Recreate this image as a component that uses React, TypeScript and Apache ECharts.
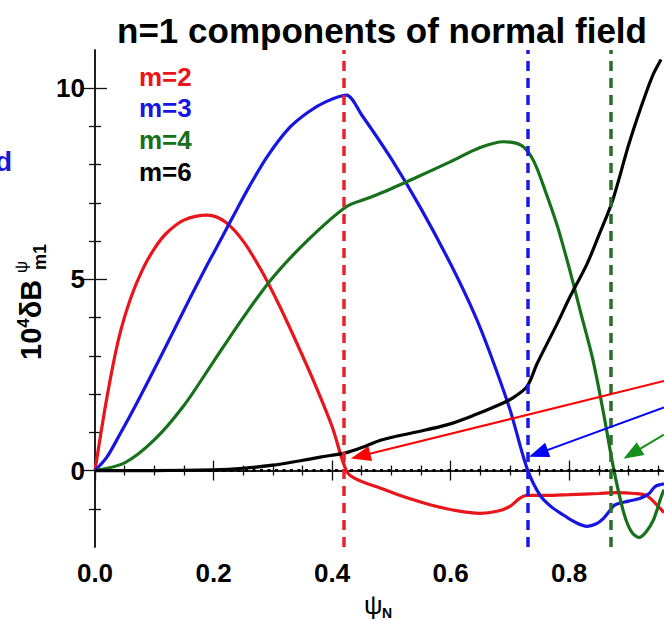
import React, { useEffect, useRef } from "react";
import * as echarts from "echarts";

// ---- data ----
const m2X = [0, 0.02, 0.04, 0.06, 0.08, 0.1, 0.12, 0.15, 0.19, 0.22, 0.25, 0.28, 0.31, 0.34, 0.37, 0.4, 0.424, 0.44, 0.483, 0.52, 0.567, 0.61, 0.65, 0.68, 0.7, 0.717, 0.729, 0.76, 0.8, 0.85, 0.88, 0.91, 0.93, 0.945, 0.96];
const m2Y = [0, 1.9, 3.45, 4.5, 5.25, 5.8, 6.2, 6.55, 6.68, 6.5, 6.0, 5.25, 4.35, 3.35, 2.3, 1.15, 0.0, -0.22, -0.47, -0.68, -0.9, -1.05, -1.12, -1.06, -0.94, -0.72, -0.65, -0.65, -0.63, -0.6, -0.58, -0.6, -0.65, -0.85, -1.1];

const m3X = [0, 0.02, 0.042, 0.07, 0.1, 0.13, 0.16, 0.19, 0.215, 0.24, 0.26, 0.29, 0.327, 0.36, 0.39, 0.424, 0.45, 0.5, 0.55, 0.6, 0.64, 0.667, 0.7, 0.729, 0.751, 0.77, 0.791, 0.81, 0.83, 0.845, 0.858, 0.869, 0.877, 0.9, 0.919, 0.935, 0.945, 0.96];
const m3Y = [0, 0.35, 0.95, 1.75, 2.65, 3.57, 4.5, 5.4, 6.12, 6.85, 7.42, 8.2, 8.95, 9.38, 9.65, 9.82, 9.3, 8.15, 6.85, 5.4, 4.1, 3.05, 1.6, 0.05, -0.65, -0.95, -1.17, -1.35, -1.46, -1.4, -1.25, -1.04, -0.9, -0.8, -0.73, -0.6, -0.42, -0.35];

const m4X = [0, 0.05, 0.1, 0.15, 0.2, 0.25, 0.3, 0.36, 0.424, 0.46, 0.495, 0.54, 0.6, 0.65, 0.69, 0.72, 0.74, 0.76, 0.78, 0.8, 0.82, 0.84, 0.858, 0.875, 0.892, 0.905, 0.918, 0.93, 0.942, 0.955, 0.96];
const m4Y = [0, 0.2, 0.8, 1.7, 2.85, 4.0, 5.05, 6.04, 6.9, 7.12, 7.34, 7.65, 8.08, 8.45, 8.6, 8.5, 8.1, 7.3, 6.4, 5.3, 4.1, 2.9, 1.5, 0.05, -1.1, -1.6, -1.75, -1.6, -1.3, -0.7, -0.5];

const m6X = [0, 0.1, 0.2, 0.25, 0.3, 0.344, 0.38, 0.424, 0.45, 0.483, 0.54, 0.595, 0.64, 0.679, 0.705, 0.729, 0.746, 0.78, 0.8, 0.83, 0.85, 0.873, 0.9, 0.92, 0.94, 0.955];
const m6Y = [0, 0, 0.02, 0.06, 0.14, 0.25, 0.35, 0.47, 0.6, 0.8, 1.0, 1.2, 1.45, 1.7, 1.9, 2.2, 2.8, 3.85, 4.5, 5.4, 6.15, 7.05, 8.5, 9.45, 10.3, 10.75];

const seriesNames = ["m=2", "m=3", "m=4", "m=6"];
const seriesColors = ["#e8151b", "#1616e0", "#17701a", "#000000"];

// rational surfaces (vertical dashed lines)
const qSurfaces = [0.424, 0.729, 0.873];
const qColors = ["#e2262b", "#1a1ae6", "#2a6e2a"];

// annotation arrows: [start, head] in data units
const arrowFrom = [[0.96, 2.34], [0.96, 1.65], [0.96, 0.94]];
const arrowTo = [[0.448, 0.38], [0.748, 0.45], [0.906, 0.44]];
const arrowColors = ["#ff0000", "#0000ff", "#16901a"];

const xMajor = [0, 0.2, 0.4, 0.6, 0.8];
const xMinor = [0.05, 0.1, 0.15, 0.25, 0.3, 0.35, 0.45, 0.5, 0.55, 0.65, 0.7, 0.75, 0.85, 0.9, 0.95];
const yMajor = [0, 5, 10];
const yMinor = [-1, 1, 2, 3, 4, 6, 7, 8, 9];

const X_MIN = 0;
const X_MAX = 0.96;
const Y_MIN = -2;
const Y_MAX = 11;

const FONT = "'Liberation Sans', Arial, Helvetica, sans-serif";

function zip(xs: number[], ys: number[]) {
  return xs.map((x, i) => [x, ys[i]]);
}

export default function App() {
  const ref = useRef<HTMLDivElement>(null);
  useEffect(() => {
    if (!ref.current) return;
    const chart = echarts.init(ref.current, undefined, { renderer: "svg" });

    const axisLine = { show: true, lineStyle: { color: "#111", width: 1.5 } };
    const mkX = (pos: "top" | "bottom", ticks: number[], len: number, labels: boolean, line: boolean) => ({
      type: "value",
      position: pos,
      min: X_MIN,
      max: X_MAX,
      axisLine: line ? axisLine : { show: false },
      axisTick: { show: true, inside: true, length: len, customValues: ticks, lineStyle: { color: "#111", width: 1.3 } },
      axisLabel: labels
        ? { show: true, customValues: ticks, formatter: (v: number) => v.toFixed(1), fontFamily: FONT, fontWeight: "bold", fontSize: 26, color: "#000", margin: 13 }
        : { show: false },
      splitLine: { show: false },
    });
    const mkY = (pos: "left" | "right", ticks: number[], len: number, labels: boolean, line: boolean) => ({
      type: "value",
      position: pos,
      min: Y_MIN,
      max: Y_MAX,
      axisLine: line ? axisLine : { show: false },
      axisTick: { show: true, inside: true, length: len, customValues: ticks, lineStyle: { color: "#111", width: 1.3 } },
      axisLabel: labels
        ? { show: true, customValues: ticks, formatter: (v: number) => String(v), fontFamily: FONT, fontWeight: "bold", fontSize: 26, color: "#000", margin: 10 }
        : { show: false },
      splitLine: { show: false },
    });

    const dataSets = [zip(m2X, m2Y), zip(m3X, m3Y), zip(m4X, m4Y), zip(m6X, m6Y)];

    const series: any[] = dataSets.map((d, i) => ({
      type: "line",
      name: seriesNames[i],
      data: d,
      xAxisIndex: 0,
      yAxisIndex: 0,
      showSymbol: false,
      symbol: "none",
      smooth: 0.3,
      lineStyle: { color: seriesColors[i], width: 3.2 },
      z: 3,
    }));

    // markers series: dashed verticals, dotted zero line
    series.push({
      type: "line",
      data: [],
      xAxisIndex: 0,
      yAxisIndex: 0,
      symbol: "none",
      z: 4,
      markLine: {
        silent: true,
        symbol: ["none", "none"],
        label: { show: false },
        data: [
          { yAxis: 0, lineStyle: { color: "#000", width: 3, type: [3, 4.5] } },
          ...qSurfaces.map((q, i) => ({ xAxis: q, lineStyle: { color: qColors[i], width: 3.5, type: [10, 7] } })),
        ],
      },
    });
    // arrows
    series.push({
      type: "line",
      data: [],
      xAxisIndex: 0,
      yAxisIndex: 0,
      symbol: "none",
      z: 5,
      markLine: {
        silent: true,
        symbol: ["none", "triangle"],
        symbolSize: [15, 20],
        label: { show: false },
        data: arrowFrom.map((f, i) => [
          { coord: f, lineStyle: { color: arrowColors[i], width: 2, type: "solid" }, itemStyle: { color: arrowColors[i] } },
          { coord: arrowTo[i], itemStyle: { color: arrowColors[i] } },
        ]),
      },
    });

    const legendY = [77, 108, 140, 172];

    chart.setOption({
      animation: false,
      backgroundColor: "#fff",
      grid: { left: 95, right: -4, top: 50, bottom: 73, containLabel: false },
      xAxis: [
        mkX("bottom", xMajor, 10, true, true),
        mkX("bottom", xMinor, 5, false, false),
        mkX("top", xMajor, 10, false, true),
        mkX("top", xMinor, 5, false, false),
      ],
      yAxis: [
        mkY("left", yMajor, 12, true, true),
        mkY("left", yMinor, 6, false, false),
        mkY("right", yMajor, 12, false, true),
        mkY("right", yMinor, 6, false, false),
      ],
      series,
      graphic: [
        {
          type: "text",
          x: 382,
          y: 30,
          style: { text: "n=1 components of normal field", font: `bold 35px ${FONT}`, fill: "#000", align: "center", verticalAlign: "middle" },
        },
        {
          type: "text",
          x: 12,
          y: 161,
          style: { text: "d", font: `bold 28px ${FONT}`, fill: "#1a1ad6", align: "right", verticalAlign: "middle" },
        },
        ...seriesNames.map((n, i) => ({
          type: "text",
          x: 139,
          y: legendY[i],
          style: { text: n, font: `bold 26px ${FONT}`, fill: seriesColors[i], align: "left", verticalAlign: "middle" },
        })),
        {
          type: "group",
          x: 30,
          y: 300,
          rotation: Math.PI / 2,
          children: [
            {
              type: "text",
              x: -60,
              y: 0,
              style: {
                text: "{a|10}{s|4}{a|δB}",
                align: "left",
                verticalAlign: "middle",
                rich: {
                  a: { fontFamily: FONT, fontWeight: "bold", fontSize: 29, fill: "#000", lineHeight: 31, verticalAlign: "bottom" },
                  s: { fontFamily: FONT, fontWeight: "bold", fontSize: 17, fill: "#000", lineHeight: 31, verticalAlign: "top" },
                },
              },
            },
            {
              type: "text",
              x: 27,
              y: -9,
              style: { text: "ψ", font: `17px ${FONT}`, fill: "#000", align: "left", verticalAlign: "middle" },
            },
            {
              type: "text",
              x: 30,
              y: 10,
              style: { text: "m1", font: `bold 18px ${FONT}`, fill: "#000", align: "left", verticalAlign: "middle" },
            },
          ],
        },
        {
          type: "text",
          x: 364,
          y: 605,
          style: { text: "ψ", font: `26px ${FONT}`, fill: "#000", align: "left", verticalAlign: "middle" },
        },
        {
          type: "text",
          x: 382,
          y: 613,
          style: { text: "N", font: `bold 14px ${FONT}`, fill: "#000", align: "left", verticalAlign: "middle" },
        },
      ],
    });
    return () => chart.dispose();
  }, []);
  return <div ref={ref} style={{ position: "absolute", left: 0, top: 0, width: 664, height: 620 }} />;
}
